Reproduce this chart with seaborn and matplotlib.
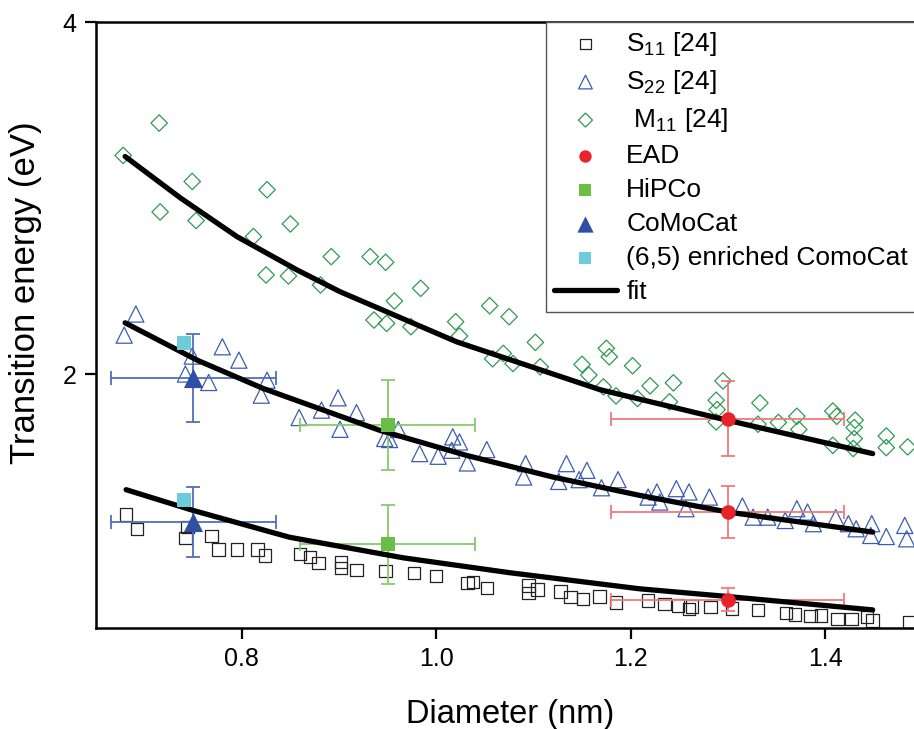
import matplotlib
matplotlib.use("Agg")
import matplotlib.pyplot as plt
import seaborn as sns

# S11 [24]
s11_d = [0.681, 0.692, 0.744, 0.742, 0.769, 0.776, 0.795, 0.816, 0.824, 0.860, 0.870, 0.879,
         0.902, 0.902, 0.918, 0.948, 0.977, 1.000, 1.032, 1.038, 1.052, 1.095, 1.095, 1.104,
         1.128, 1.138, 1.151, 1.168, 1.185, 1.218, 1.235, 1.249, 1.260, 1.263, 1.282, 1.304,
         1.331, 1.360, 1.369, 1.385, 1.396, 1.413, 1.427, 1.443, 1.449, 1.487]
s11_e = [1.201, 1.121, 1.130, 1.068, 1.079, 1.003, 1.002, 1.002, 0.969, 0.979, 0.960, 0.928,
         0.931, 0.897, 0.888, 0.880, 0.871, 0.851, 0.814, 0.817, 0.783, 0.798, 0.757, 0.776,
         0.764, 0.732, 0.723, 0.736, 0.703, 0.713, 0.694, 0.685, 0.666, 0.679, 0.675, 0.669,
         0.660, 0.643, 0.633, 0.624, 0.628, 0.607, 0.607, 0.620, 0.601, 0.590]

# S22 [24]
s22_d = [0.691, 0.679, 0.749, 0.780, 0.797, 0.742, 0.766, 0.826, 0.820, 0.859, 0.882, 0.899,
         0.918, 0.901, 0.947, 0.961, 0.952, 0.983, 1.002, 1.017, 1.024, 1.016, 1.032, 1.052,
         1.092, 1.090, 1.134, 1.126, 1.147, 1.155, 1.170, 1.187, 1.218, 1.227, 1.230, 1.247,
         1.260, 1.257, 1.281, 1.315, 1.326, 1.341, 1.359, 1.371, 1.382, 1.388, 1.411, 1.424,
         1.432, 1.448, 1.447, 1.463, 1.482, 1.484]
s22_e = [2.341, 2.221, 2.102, 2.155, 2.079, 2.000, 1.952, 1.965, 1.880, 1.753, 1.795, 1.865,
         1.781, 1.686, 1.634, 1.685, 1.628, 1.548, 1.533, 1.643, 1.614, 1.567, 1.495, 1.571,
         1.491, 1.415, 1.491, 1.390, 1.400, 1.453, 1.354, 1.400, 1.301, 1.330, 1.273, 1.349,
         1.330, 1.235, 1.301, 1.250, 1.187, 1.187, 1.168, 1.235, 1.216, 1.150, 1.184, 1.150,
         1.121, 1.150, 1.083, 1.077, 1.140, 1.064]

# M11 [24]
m11_d = [0.678, 0.715, 0.749, 0.716, 0.753, 0.826, 0.812, 0.850, 0.825, 0.848, 0.892, 0.881,
         0.932, 0.948, 0.984, 0.957, 0.936, 0.949, 0.974, 1.020, 1.024, 1.055, 1.075, 1.102,
         1.058, 1.069, 1.079, 1.107, 1.150, 1.157, 1.175, 1.178, 1.172, 1.185, 1.202, 1.207,
         1.220, 1.244, 1.240, 1.295, 1.288, 1.289, 1.288, 1.333, 1.331, 1.352, 1.371, 1.373,
         1.408, 1.412, 1.431, 1.430, 1.430, 1.429, 1.408, 1.463, 1.463, 1.485]
m11_e = [3.242, 3.426, 3.094, 2.921, 2.872, 3.047, 2.781, 2.853, 2.563, 2.557, 2.667, 2.506,
         2.667, 2.635, 2.487, 2.415, 2.307, 2.288, 2.269, 2.297, 2.216, 2.388, 2.326, 2.180,
         2.087, 2.117, 2.060, 2.041, 2.055, 1.994, 2.146, 2.098, 1.927, 1.876, 2.047, 1.861,
         1.933, 1.950, 1.842, 1.961, 1.851, 1.798, 1.728, 1.836, 1.715, 1.725, 1.760, 1.685,
         1.790, 1.760, 1.738, 1.696, 1.633, 1.577, 1.595, 1.648, 1.582, 1.586]

# fits
fit_s11_d = [0.681, 0.750, 0.849, 0.966, 1.076, 1.209, 1.300, 1.449]
fit_s11_e = [1.343, 1.225, 1.073, 0.956, 0.871, 0.780, 0.736, 0.660]
fit_s22_d = [0.680, 0.754, 0.822, 0.942, 1.031, 1.120, 1.209, 1.300, 1.449]
fit_s22_e = [2.291, 2.079, 1.918, 1.680, 1.538, 1.415, 1.311, 1.216, 1.102]
fit_m11_d = [0.680, 0.737, 0.795, 0.857, 0.901, 1.021, 1.168, 1.299, 1.449]
fit_m11_e = [3.236, 3.000, 2.781, 2.591, 2.468, 2.183, 1.912, 1.738, 1.548]

# measured samples
ead_d = [1.30, 1.30, 1.30]
ead_e = [1.747, 1.216, 0.717]
ead_xerr = [0.12, 0.12, 0.12]
ead_yerr = [0.215, 0.15, 0.066]

hipco_d = [0.95, 0.95]
hipco_e = [1.709, 1.032]
hipco_xerr = [0.09, 0.09]
hipco_yerr = [0.256, 0.225]

comocat_d = [0.75, 0.75]
comocat_e = [1.980, 1.159]
comocat_xerr = [0.085, 0.085]
comocat_yerr = [0.25, 0.20]

enriched_d = [0.741, 0.741]
enriched_e = [2.178, 1.282]

sns.set_style("ticks")
plt.rcParams["font.family"] = ["Liberation Sans", "DejaVu Sans"]
plt.rcParams["mathtext.fontset"] = "custom"
plt.rcParams["mathtext.rm"] = "Liberation Sans"
plt.rcParams["text.color"] = "black"
plt.rcParams["axes.labelcolor"] = "black"
plt.rcParams["xtick.color"] = "black"
plt.rcParams["ytick.color"] = "black"

fig = plt.figure(figsize=(9.14, 7.29), dpi=100)
ax = fig.add_axes([0.105, 0.1385, 0.895, 0.8313])

c_s11 = "#222222"
c_s22 = "#3a5db0"
c_m11 = "#2f9a52"

sns.scatterplot(x=s11_d, y=s11_e, ax=ax, marker="s", s=80, facecolor="none",
                edgecolor=c_s11, linewidth=0.9, label="S$_{11}$ [24]", zorder=2)
sns.scatterplot(x=s22_d, y=s22_e, ax=ax, marker="^", s=135, facecolor="none",
                edgecolor=c_s22, linewidth=0.9, label="S$_{22}$ [24]", zorder=2)
sns.scatterplot(x=m11_d, y=m11_e, ax=ax, marker="D", s=70, facecolor="none",
                edgecolor=c_m11, linewidth=0.9, label=" M$_{11}$ [24]", zorder=2)

ax.errorbar(ead_d, ead_e, xerr=ead_xerr, yerr=ead_yerr, fmt="none",
            ecolor="#f07a7a", elinewidth=1.3, capsize=5, capthick=1.3, zorder=3)
ax.errorbar(hipco_d, hipco_e, xerr=hipco_xerr, yerr=hipco_yerr, fmt="none",
            ecolor="#86cc6a", elinewidth=1.3, capsize=5, capthick=1.3, zorder=3)
ax.errorbar(comocat_d, comocat_e, xerr=comocat_xerr, yerr=comocat_yerr, fmt="none",
            ecolor="#4f6fba", elinewidth=1.3, capsize=5, capthick=1.3, zorder=3)

for fd, fe, lab in [(fit_s11_d, fit_s11_e, "fit"), (fit_s22_d, fit_s22_e, "_nolegend_"),
                    (fit_m11_d, fit_m11_e, "_nolegend_")]:
    sns.lineplot(x=fd, y=fe, ax=ax, color="black", linewidth=3.8, sort=False,
                 estimator=None, label=lab, zorder=4)

sns.scatterplot(x=ead_d, y=ead_e, ax=ax, marker="o", s=110, color="#e8232a",
                linewidth=0, label="EAD", zorder=5)
sns.scatterplot(x=hipco_d, y=hipco_e, ax=ax, marker="s", s=95, color="#6abd45",
                linewidth=0, label="HiPCo", zorder=5)
sns.scatterplot(x=comocat_d, y=comocat_e, ax=ax, marker="^", s=190, color="#2f4fa3",
                linewidth=0, label="CoMoCat", zorder=5)
sns.scatterplot(x=enriched_d, y=enriched_e, ax=ax, marker="s", s=95, color="#6dcbdb",
                linewidth=0, label="(6,5) enriched ComoCat", zorder=5)

ax.set_xlim(0.65, 1.4915)
ax.set_ylim(0.557, 4.0)
ax.set_xticks([0.8, 1.0, 1.2, 1.4])
ax.set_xticklabels(["0.8", "1.0", "1.2", "1.4"])
ax.set_yticks([2, 4])
ax.set_yticklabels(["2", "4"])
ax.tick_params(axis="both", direction="out", length=8, width=1.6, labelsize=18, pad=6,
               color="black", labelcolor="black")
ax.set_xlabel("Diameter (nm)", fontsize=23.5)
ax.set_ylabel("Transition energy (eV)", fontsize=25)
ax.xaxis.set_label_coords(0.506, -0.117)
ax.yaxis.set_label_coords(-0.066, 0.554)
for side in ["left", "bottom", "top"]:
    ax.spines[side].set_linewidth(1.8)
    ax.spines[side].set_color("black")
ax.spines["right"].set_visible(False)

order = ["S$_{11}$ [24]", "S$_{22}$ [24]", " M$_{11}$ [24]", "EAD", "HiPCo", "CoMoCat",
         "(6,5) enriched ComoCat", "fit"]
handles, labels = ax.get_legend_handles_labels()
lookup = dict(zip(labels, handles))
leg = ax.legend([lookup[k] for k in order], order, loc="upper left",
                bbox_to_anchor=(0.550, 1.0), fontsize=19, frameon=True, fancybox=False,
                edgecolor="#555555", framealpha=1, borderpad=0.3, labelspacing=0.38,
                handlelength=2.4, handletextpad=0.35, borderaxespad=0, markerscale=0.85)
leg.get_frame().set_linewidth(1.0)

fig.savefig("out.png", dpi=100)
